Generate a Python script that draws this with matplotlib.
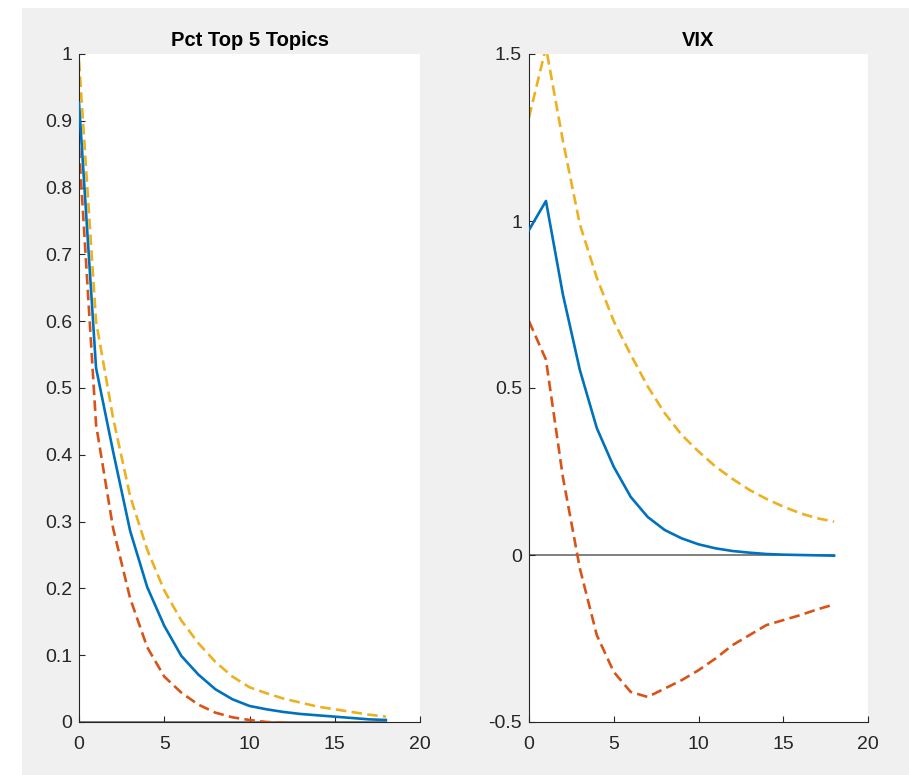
import matplotlib.pyplot as plt
import matplotlib.patches as mpatches
import numpy as np

plt.rcParams['font.family'] = ['Liberation Sans', 'DejaVu Sans']

# impulse response horizon
horizon = np.arange(0, 19)

# Pct Top 5 Topics: median response and bands
topics_mid = [0.927, 0.53, 0.405, 0.286, 0.202, 0.144, 0.099, 0.071, 0.049, 0.034,
              0.024, 0.019, 0.015, 0.012, 0.010, 0.008, 0.006, 0.004, 0.003]
topics_lo = [0.86, 0.445, 0.29, 0.185, 0.112, 0.068, 0.044, 0.026, 0.014, 0.007,
             0.003, 0.0, -0.001, -0.002, -0.002, -0.002, -0.002, -0.002, -0.002]
topics_hi = [0.99, 0.60, 0.455, 0.338, 0.258, 0.197, 0.152, 0.118, 0.090, 0.068,
             0.052, 0.043, 0.035, 0.029, 0.023, 0.019, 0.015, 0.011, 0.008]

# VIX: median response and bands
vix_mid = [0.973, 1.06, 0.78, 0.554, 0.38, 0.264, 0.174, 0.114, 0.075, 0.05,
           0.032, 0.02, 0.012, 0.007, 0.003, 0.001, 0.0, -0.001, -0.002]
vix_lo = [0.70, 0.585, 0.233, -0.04, -0.24, -0.35, -0.41, -0.425, -0.40, -0.375,
          -0.345, -0.31, -0.27, -0.24, -0.21, -0.195, -0.18, -0.163, -0.148]
vix_hi = [1.31, 1.52, 1.24, 0.99, 0.83, 0.70, 0.60, 0.505, 0.425, 0.36,
          0.31, 0.265, 0.228, 0.195, 0.168, 0.145, 0.125, 0.11, 0.10]

C_MID = '#0072BD'
C_LO = '#D95319'
C_HI = '#EDB120'
AXC = '#262626'

fig = plt.figure(figsize=(9.09, 7.75), dpi=100, facecolor='white')
fig.patches.append(mpatches.Rectangle((22 / 909, 0), 1, 767 / 775, transform=fig.transFigure,
                                      facecolor='#f0f0f0', edgecolor='none', zorder=-10))

panels = [
    dict(pos=[79 / 909, 53 / 775, 341 / 909, 668 / 775], title='Pct Top 5 Topics',
         mid=topics_mid, lo=topics_lo, hi=topics_hi, ylim=(0, 1),
         yticks=np.round(np.arange(0, 1.01, 0.1), 1),
         ylabels=['0', '0.1', '0.2', '0.3', '0.4', '0.5', '0.6', '0.7', '0.8', '0.9', '1']),
    dict(pos=[529 / 909, 53 / 775, 339 / 909, 668 / 775], title='VIX',
         mid=vix_mid, lo=vix_lo, hi=vix_hi, ylim=(-0.5, 1.5),
         yticks=[-0.5, 0, 0.5, 1, 1.5],
         ylabels=['-0.5', '0', '0.5', '1', '1.5']),
]

for p in panels:
    ax = fig.add_axes(p['pos'])
    ax.set_facecolor('white')
    ax.plot(horizon, np.zeros_like(horizon), color='#808080', lw=1.4, zorder=1)
    ax.plot(horizon, p['mid'], color=C_MID, lw=1.9, zorder=3)
    ax.plot(horizon, p['lo'], color=C_LO, lw=1.9, ls=(0, (4, 2)), zorder=2)
    ax.plot(horizon, p['hi'], color=C_HI, lw=1.9, ls=(0, (4, 2)), zorder=2)
    ax.set_xlim(0, 20)
    ax.set_ylim(*p['ylim'])
    ax.set_xticks([0, 5, 10, 15, 20])
    ax.set_yticks(p['yticks'])
    ax.set_yticklabels(p['ylabels'])
    for side in ['top', 'right']:
        ax.spines[side].set_visible(False)
    for side in ['left', 'bottom']:
        ax.spines[side].set_color(AXC)
        ax.spines[side].set_linewidth(0.8)
    ax.tick_params(direction='in', length=4, width=0.8, color=AXC,
                   labelcolor=AXC, labelsize=14)
    ax.tick_params(axis='x', pad=10)
    ax.tick_params(axis='y', pad=5)
    ax.set_title(p['title'], fontsize=14.5, fontweight='bold', pad=6)

fig.savefig('out.png', dpi=100, facecolor=fig.get_facecolor())
